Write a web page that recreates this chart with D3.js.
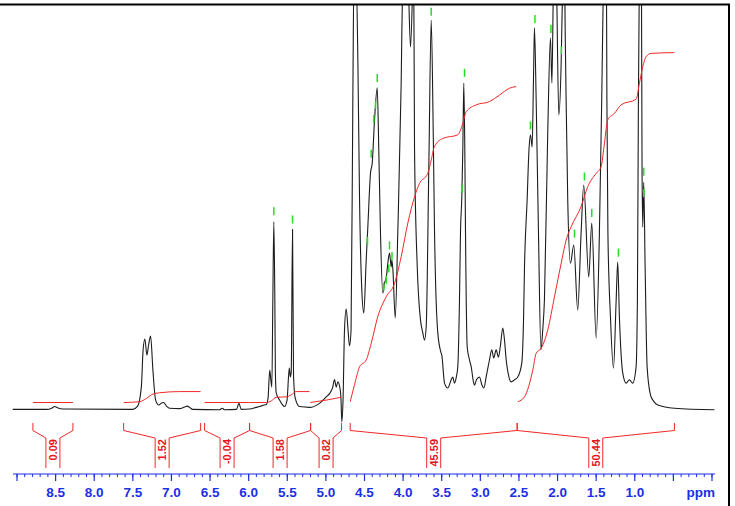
<!DOCTYPE html>
<html>
<head>
<meta charset="utf-8">
<script src="https://cdn.jsdelivr.net/npm/d3@7"></script>
<style>
  body { margin: 0; background: #fff; }
  svg { display: block; font-family: "Liberation Sans", Arial, sans-serif; }
</style>
</head>
<body>
<svg id="chart" width="735" height="506"></svg>
<script>
// 1H spectrum: [ppm, intensity in % of full scale]
const spectrum = [
  [9.056, -0.1], [8.616, -0.1], [8.551, 0.2], [8.513, 0.6], [8.474, 0.3], [8.409, 0.0],
  [7.503, -0.1], [7.438, 0.7], [7.390, 5.4], [7.367, 14.6], [7.344, 17.3], [7.318, 13.3],
  [7.296, 15.8], [7.270, 18.0], [7.240, 9.6], [7.205, 2.2], [7.163, 1.0], [7.128, 1.5],
  [7.102, 1.6], [7.063, 0.7], [7.024, 0.2], [6.895, 0.1], [6.830, 0.5], [6.795, 0.7],
  [6.765, 0.4], [6.726, -0.1], [6.377, -0.2], [6.342, 0.2], [6.312, -0.2], [6.157, -0.1],
  [6.127, 1.4], [6.096, -0.1], [5.988, 0.0], [5.902, 0.4], [5.859, 0.6], [5.816, 0.9],
  [5.772, 1.1], [5.749, 2.7], [5.727, 9.6], [5.713, 7.2], [5.700, 5.4], [5.687, 26.9],
  [5.674, 46.2], [5.661, 26.9], [5.654, 9.1], [5.643, 4.0], [5.600, 2.2], [5.568, 1.2],
  [5.535, 0.6], [5.503, 2.2], [5.474, 10.1], [5.461, 7.9], [5.449, 9.1], [5.432, 44.4],
  [5.419, 8.1], [5.397, 2.7], [5.341, 0.6], [5.212, 0.4], [5.082, 1.4], [4.995, 3.0],
  [4.953, 3.8], [4.914, 5.2], [4.888, 7.3], [4.866, 5.4], [4.845, 6.7], [4.814, 4.7],
  [4.804, 2.2], [4.794, -3.2], [4.778, 2.2], [4.759, 19.5], [4.737, 24.7], [4.713, 19.5],
  [4.694, 15.6], [4.674, 19.5], [4.651, 76.3], [4.636, 108.4], [4.610, 108.4], [4.586, 86.2],
  [4.564, 51.6], [4.535, 29.4], [4.509, 23.7], [4.478, 36.8], [4.457, 44.9], [4.422, 58.3],
  [4.400, 60.7], [4.370, 71.4], [4.335, 79.3], [4.315, 64.0], [4.293, 43.5], [4.263, 28.6],
  [4.241, 31.1], [4.219, 32.3], [4.198, 36.0], [4.176, 38.5], [4.154, 35.1], [4.146, 36.8],
  [4.133, 34.6], [4.102, 22.5], [4.069, 43.5], [4.025, 80.5], [4.004, 108.4], [3.962, 120.7],
  [3.930, 103.5], [3.904, 89.4], [3.878, 103.5], [3.865, 115.0], [3.852, 64.0], [3.817, 35.1],
  [3.775, 22.0], [3.745, 18.8], [3.723, 17.0], [3.701, 20.3], [3.667, 59.8], [3.636, 96.0],
  [3.610, 68.4], [3.594, 44.9], [3.551, 18.8], [3.507, 13.8], [3.499, 13.3], [3.464, 6.4],
  [3.421, 5.2], [3.377, 7.2], [3.357, 7.9], [3.335, 6.4], [3.313, 7.7], [3.292, 10.4],
  [3.270, 26.9], [3.257, 43.5], [3.240, 52.3], [3.227, 64.0], [3.214, 80.5], [3.201, 64.0],
  [3.192, 43.5], [3.170, 15.3], [3.140, 12.1], [3.118, 10.4], [3.089, 6.7], [3.076, 5.9],
  [3.050, 7.2], [3.011, 7.9], [2.979, 5.9], [2.955, 5.2], [2.920, 8.4], [2.882, 12.1],
  [2.852, 14.6], [2.826, 12.6], [2.795, 14.6], [2.765, 12.8], [2.739, 15.8], [2.709, 20.0],
  [2.687, 17.0], [2.665, 12.1], [2.636, 8.4], [2.601, 6.7], [2.558, 7.2], [2.515, 7.9],
  [2.463, 11.4], [2.441, 21.7], [2.428, 35.1], [2.394, 51.6], [2.370, 64.0], [2.351, 67.7],
  [2.329, 64.7], [2.312, 81.2], [2.299, 94.1], [2.277, 76.3], [2.247, 43.5], [2.215, 14.6],
  [2.192, 19.5], [2.170, 26.9], [2.127, 68.4], [2.092, 91.6], [2.073, 80.5], [2.053, 105.9],
  [2.034, 115.8], [2.014, 105.9], [1.984, 72.6], [1.953, 85.7], [1.933, 105.9], [1.917, 115.8],
  [1.898, 88.6], [1.889, 76.3], [1.868, 51.6], [1.833, 36.0], [1.790, 40.5], [1.739, 24.4],
  [1.695, 43.5], [1.661, 55.3], [1.596, 32.6], [1.557, 45.9], [1.500, 17.5], [1.458, 43.5],
  [1.428, 76.3], [1.406, 105.9], [1.386, 120.7], [1.367, 105.9], [1.361, 76.3], [1.348, 43.5],
  [1.315, 22.7], [1.276, 10.1], [1.241, 26.9], [1.221, 36.3], [1.199, 22.7], [1.156, 8.9],
  [1.112, 6.4], [1.069, 7.2], [1.027, 6.4], [0.983, 10.4], [0.966, 26.9], [0.953, 76.3],
  [0.940, 108.4], [0.927, 120.7], [0.914, 108.4], [0.906, 59.8], [0.897, 44.9], [0.884, 56.0],
  [0.866, 35.1], [0.840, 10.4], [0.797, 3.5], [0.759, 2.0], [0.703, 1.0], [0.487, 0.2],
  [-0.031, -0.2]
];

// integration regions: [from ppm, to ppm, value]
const integralRegions = [
  [8.794, 8.276, "0.09"],
  [7.619, 6.622, "1.52"],
  [6.571, 5.988, "-0.04"],
  [5.988, 5.198, "1.58"],
  [5.198, 4.797, "0.82"],
  [4.685, 2.523, "45.59"],
  [2.523, 0.487, "50.44"]
];

// integral traces, one per region, same intensity scale
const integralCurves = [
  [[8.794, 1.6], [8.276, 1.6]],
  [[7.619, 1.6], [7.412, 1.8], [7.326, 2.6], [7.240, 3.7], [7.154, 4.0], [6.895, 4.3], [6.622, 4.3]],
  [[6.571, 1.6], [5.988, 1.6]],
  [[5.988, 1.6], [5.772, 1.6], [5.707, 2.0], [5.643, 2.9], [5.513, 3.0], [5.449, 3.5], [5.384, 4.3], [5.212, 4.3]],
  [[5.203, 1.6], [4.995, 2.2], [4.801, 2.9]],
  [[4.685, 1.8], [4.629, 6.0], [4.564, 10.4], [4.478, 12.1], [4.413, 16.2], [4.328, 22.8],
   [4.219, 27.7], [4.111, 31.0], [4.025, 37.6], [3.939, 45.9], [3.852, 52.4], [3.788, 55.7],
   [3.680, 58.2], [3.636, 61.5], [3.594, 64.8], [3.486, 66.8], [3.292, 67.7], [3.227, 70.5],
   [3.183, 73.4], [3.054, 75.1], [2.882, 75.9], [2.752, 77.5], [2.623, 79.2], [2.536, 79.6]],
  [[2.515, 1.8], [2.428, 3.0], [2.321, 9.6], [2.277, 13.8], [2.212, 15.0], [2.127, 19.5],
   [2.040, 27.7], [1.953, 36.0], [1.889, 41.7], [1.824, 45.0], [1.695, 50.0], [1.609, 54.9],
   [1.500, 58.2], [1.436, 59.8], [1.393, 65.6], [1.350, 71.4], [1.263, 73.0], [1.177, 75.1],
   [0.983, 76.5], [0.940, 80.4], [0.897, 84.5], [0.853, 87.0], [0.788, 87.8], [0.487, 88.0]]
];

// peak-pick marks: [ppm, level]
const peakPicks = [
  [5.674, 48.8], [5.432, 46.8], [4.335, 81.7], [4.357, 75.1], [4.379, 71.6], [4.413, 63.0],
  [4.461, 41.5], [4.176, 40.4], [4.144, 37.8], [4.185, 34.7], [4.219, 31.9], [4.250, 30.2],
  [3.636, 98.1], [3.205, 83.0], [3.237, 54.3], [2.293, 96.3], [2.351, 70.0], [2.086, 93.8],
  [1.950, 88.5], [1.652, 57.4], [1.781, 43.3], [1.557, 48.4], [1.212, 38.6], [0.884, 58.6],
  [0.884, 53.3]
];

const majorTicks = [9.0, 8.5, 8.0, 7.5, 7.0, 6.5, 6.0, 5.5, 5.0, 4.5, 4.0, 3.5, 3.0, 2.5, 2.0, 1.5, 1.0, 0.5, 0.0];
const tickLabels = ["", "8.5", "8.0", "7.5", "7.0", "6.5", "6.0", "5.5", "5.0", "4.5", "4.0", "3.5", "3.0", "2.5", "2.0", "1.5", "1.0", "", ""];

const svg = d3.select("#chart");
const W = 735, H = 506;
svg.append("rect").attr("width", W).attr("height", H).attr("fill", "white");

const x = d3.scaleLinear().domain([9.0, 0.0]).range([17, 712]);
const y = d3.scaleLinear().domain([0, 100]).range([409, 4]);

const blue = "#1b2fe6";
const red = "#f02828";

svg.append("clipPath").attr("id", "plotClip")
  .append("rect").attr("x", 0).attr("y", 5).attr("width", 728).attr("height", 430);

// spectrum
svg.append("path")
  .datum(spectrum)
  .attr("clip-path", "url(#plotClip)")
  .attr("fill", "none")
  .attr("stroke", "#1c1c1c")
  .attr("stroke-width", 1.1)
  .attr("stroke-linejoin", "round")
  .attr("d", d3.line().x(d => x(d[0])).y(d => y(d[1])).curve(d3.curveMonotoneX));

// integral curves
const intLine = d3.line().x(d => x(d[0])).y(d => y(d[1])).curve(d3.curveMonotoneX);
svg.append("g").selectAll("path")
  .data(integralCurves)
  .join("path")
  .attr("fill", "none")
  .attr("stroke", red)
  .attr("stroke-width", 1)
  .attr("d", intLine);

// peak picks
svg.append("g").selectAll("line")
  .data(peakPicks)
  .join("line")
  .attr("x1", d => x(d[0])).attr("x2", d => x(d[0]))
  .attr("y1", d => y(d[1]) - 4).attr("y2", d => y(d[1]) + 4)
  .attr("stroke", "#22e022")
  .attr("stroke-width", 1.5);

// integral brackets
const bTop = 423, bKnee = 430.5, bBox = 438, bBottom = 468, half = 7;
const brackets = svg.append("g");
integralRegions.forEach(r => {
  const x1 = x(r[0]), x2 = x(r[1]), cx = (x1 + x2) / 2;
  brackets.append("path")
    .attr("fill", "none")
    .attr("stroke", red)
    .attr("stroke-width", 1)
    .attr("d", `M${x1},${bTop}V${bKnee}L${cx - half},${bBox}V${bBottom}` +
               `M${cx + half},${bBottom}V${bBox}L${x2},${bKnee}V${bTop}`);
  brackets.append("text")
    .attr("transform", `translate(${cx},${bBox + 1}) rotate(-90)`)
    .attr("text-anchor", "end")
    .attr("dominant-baseline", "central")
    .attr("fill", "#e5161c")
    .attr("font-size", 11)
    .attr("font-weight", "bold")
    .text(r[2]);
});

// ppm axis
const axisY = 474;
const axisG = svg.append("g").attr("transform", `translate(0,${axisY})`);
axisG.append("line")
  .attr("x1", 13).attr("x2", 715)
  .attr("stroke", blue).attr("stroke-width", 1.2);

const minorTicks = d3.range(0, 91).map(i => i / 10);
axisG.selectAll(".minor")
  .data(minorTicks)
  .join("line")
  .attr("x1", d => x(d)).attr("x2", d => x(d))
  .attr("y1", 0).attr("y2", 3)
  .attr("stroke", blue).attr("stroke-width", 1);

axisG.selectAll(".major")
  .data(majorTicks)
  .join("line")
  .attr("x1", d => x(d)).attr("x2", d => x(d))
  .attr("y1", 0).attr("y2", 7)
  .attr("stroke", blue).attr("stroke-width", 1.2);

axisG.selectAll(".lab")
  .data(majorTicks)
  .join("text")
  .attr("x", d => x(d))
  .attr("y", 23)
  .attr("text-anchor", "middle")
  .attr("fill", blue)
  .attr("font-size", 13.5)
  .attr("font-weight", "bold")
  .text((d, i) => tickLabels[i]);

axisG.append("text")
  .attr("x", 715).attr("y", 23)
  .attr("text-anchor", "end")
  .attr("fill", blue)
  .attr("font-size", 13.5)
  .attr("font-weight", "bold")
  .text("ppm");

// frame
svg.append("path")
  .attr("fill", "none")
  .attr("stroke", "black")
  .attr("stroke-width", 2)
  .attr("d", "M0,4.5H729V506");
</script>
</body>
</html>
